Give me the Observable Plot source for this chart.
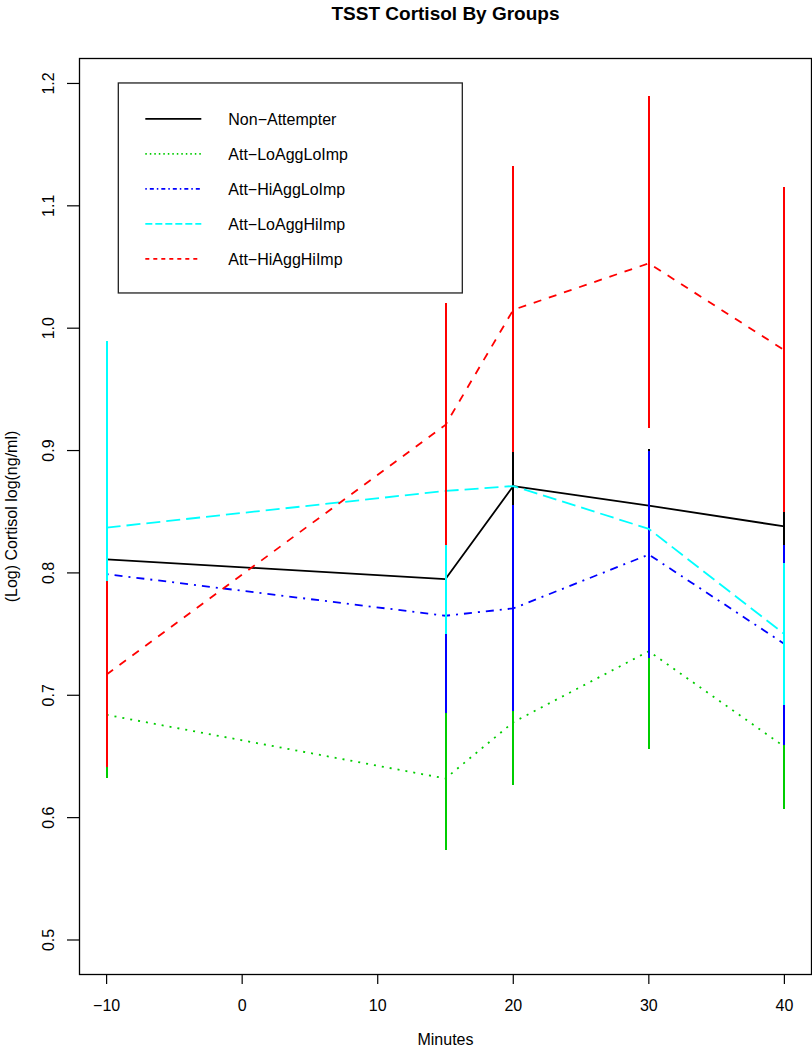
<!DOCTYPE html>
<html>
<head>
<meta charset="utf-8">
<script src="https://cdn.jsdelivr.net/npm/d3@7"></script>
<script src="https://cdn.jsdelivr.net/npm/@observablehq/plot@0.6"></script>
<style>
  html, body { margin: 0; padding: 0; background: #fff; }
  #chart svg { display: block; }
</style>
</head>
<body>
<div id="chart"></div>
<script>
// ---- data ----
const minutes = [-10, 15, 20, 30, 40];
const groups = ["Non\u2212Attempter", "Att\u2212LoAggLoImp", "Att\u2212HiAggLoImp", "Att\u2212LoAggHiImp", "Att\u2212HiAggHiImp"];

const nonAttMean = [0.811, 0.795, 0.871, 0.855, 0.838];
const nonAttLo   = [0.771, 0.745, 0.846, 0.809, 0.800];
const nonAttHi   = [0.851, 0.845, 0.900, 0.901, 0.876];

const loAggLoImpMean = [0.684, 0.632, 0.678, 0.736, 0.658];
const loAggLoImpLo   = [0.632, 0.573, 0.626, 0.656, 0.607];
const loAggLoImpHi   = [0.736, 0.691, 0.730, 0.816, 0.709];

const hiAggLoImpMean = [0.799, 0.765, 0.771, 0.815, 0.742];
const hiAggLoImpLo   = [0.729, 0.685, 0.687, 0.730, 0.659];
const hiAggLoImpHi   = [0.869, 0.845, 0.855, 0.899, 0.822];

const loAggHiImpMean = [0.837, 0.867, 0.871, 0.836, 0.750];
const loAggHiImpLo   = [0.685, 0.750, null, null, 0.692];
const loAggHiImpHi   = [0.989, 0.984, null, null, 0.808];

const hiAggHiImpMean = [0.717, 0.921, 1.015, 1.053, 0.982];
const hiAggHiImpLo   = [0.641, 0.822, 0.898, 0.918, 0.849];
const hiAggHiImpHi   = [0.793, 1.020, 1.132, 1.189, 1.115];

const xTicks = [-10, 0, 10, 20, 30, 40];
const yTicks = [0.5, 0.6, 0.7, 0.8, 0.9, 1.0, 1.1, 1.2];

const titleText = "TSST Cortisol By Groups";
const xLabel = "Minutes";
const yLabel = "(Log) Cortisol log(ng/ml)";

// ---- styles ----
const colors = ["#000000", "#00CD00", "#0000FF", "#00FFFF", "#FF0000"];
const dashes = [null, "2,6", "2,6,8,6", "14,6", "8,8"];
const legendDashes = [null, "1.5,3", "1.5,3,4,3", "7,3", "4,4"];
const font = "'Liberation Sans', Arial, Helvetica, sans-serif";

// ---- tidy table ----
const means = [nonAttMean, loAggLoImpMean, hiAggLoImpMean, loAggHiImpMean, hiAggHiImpMean];
const lows  = [nonAttLo, loAggLoImpLo, hiAggLoImpLo, loAggHiImpLo, hiAggHiImpLo];
const highs = [nonAttHi, loAggLoImpHi, hiAggLoImpHi, loAggHiImpHi, hiAggHiImpHi];
const rows = groups.flatMap((g, i) => minutes.map((m, j) => ({
  group: g, gi: i, minute: m, mean: means[i][j], lo: lows[i][j], hi: highs[i][j]
})));

// legend anchored in data space (top-left corner)
const legendAnchor = {x: -9.1, y: 1.2};

function legendMark(index, scales) {
  const x0 = scales.x(legendAnchor.x), y0 = scales.y(legendAnchor.y);
  const g = d3.create("svg:g").attr("transform", `translate(${x0},${y0})`)
    .attr("font-family", font).attr("font-size", 16).attr("text-anchor", "start");
  g.append("rect").attr("x", 0).attr("y", 0).attr("width", 344).attr("height", 210)
    .attr("fill", "white").attr("stroke", "#222").attr("stroke-width", 1.3);
  groups.forEach((name, i) => {
    const yy = 36 + 35 * i;
    g.append("line").attr("x1", 27).attr("x2", 83).attr("y1", yy).attr("y2", yy)
      .attr("stroke", colors[i]).attr("stroke-width", 1.8)
      .attr("stroke-dasharray", legendDashes[i]);
    g.append("text").attr("x", 110).attr("y", yy).attr("dy", "0.35em")
      .attr("text-anchor", "start").attr("fill", "black").text(name);
  });
  return g.node();
}

const marks = [];
groups.forEach((g, i) => {
  const sub = rows.filter(d => d.gi === i);
  marks.push(Plot.line(sub, {
    x: "minute", y: "mean", stroke: colors[i], strokeWidth: 1.8,
    strokeDasharray: dashes[i], strokeLinecap: "butt"
  }));
  marks.push(Plot.ruleX(sub.filter(d => d.lo != null), {
    x: "minute", y1: "lo", y2: "hi", stroke: colors[i], strokeWidth: 2,
    shapeRendering: "crispEdges"
  }));
});

const chart = Plot.plot({
  width: 812,
  height: 1050,
  marginTop: 58,
  marginBottom: 76,
  marginLeft: 79,
  marginRight: 1,
  style: {fontFamily: font, fontSize: "16px", background: "white", color: "black"},
  x: {domain: [-12, 42]},
  y: {domain: [0.4718, 1.2204]},
  marks: [
    Plot.axisX(xTicks, {tickSize: 10, tickPadding: 15, fontSize: 16, label: null, strokeWidth: 1.2}),
    Plot.axisY(yTicks, {tickSize: 12, tickPadding: 14, tickRotate: -90, fontSize: 16, label: null,
      tickFormat: d3.format(".1f"), strokeWidth: 1.2}),
    ...marks,
    legendMark,
    Plot.frame({stroke: "black", strokeWidth: 1.3}),
    Plot.text([titleText], {frameAnchor: "top", dy: -45, lineAnchor: "middle",
      fontSize: 19, fontWeight: "bold", fill: "black"}),
    Plot.text([xLabel], {frameAnchor: "bottom", dy: 65, lineAnchor: "middle", fontSize: 16, fill: "black"}),
    Plot.text([yLabel], {frameAnchor: "left", dx: -68, rotate: -90, lineAnchor: "middle",
      textAnchor: "middle", fontSize: 16, fill: "black"})
  ]
});
document.getElementById("chart").appendChild(chart);
</script>
</body>
</html>
